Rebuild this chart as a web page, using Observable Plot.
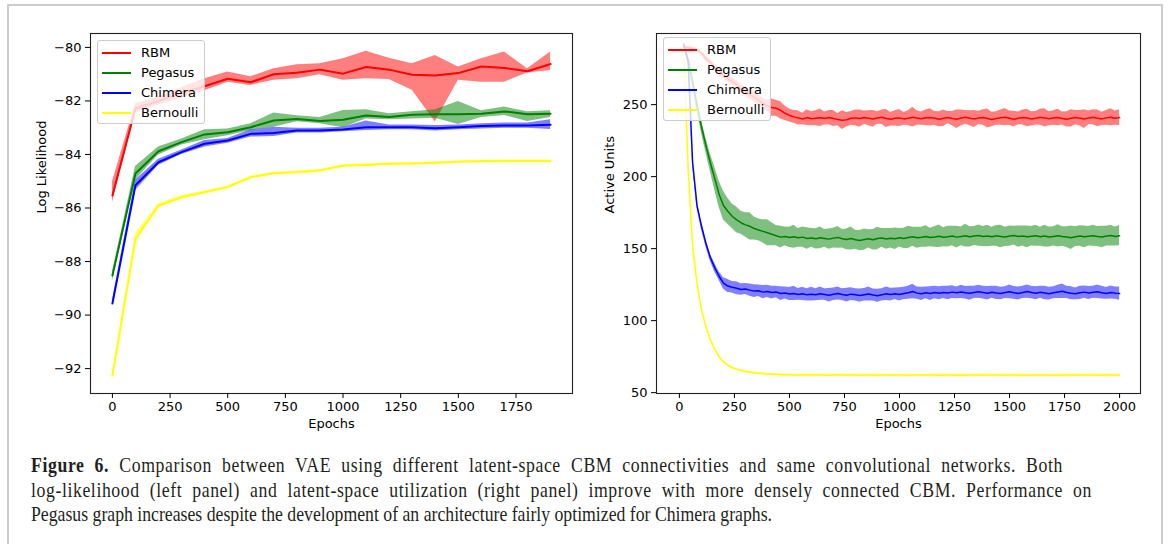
<!DOCTYPE html>
<html><head><meta charset="utf-8">
<script src="https://cdn.jsdelivr.net/npm/d3@7"></script>
<script src="https://cdn.jsdelivr.net/npm/@observablehq/plot@0.6"></script>
<style>
html,body{margin:0;padding:0;background:#fff;}
#root{position:relative;width:1170px;height:544px;overflow:hidden;background:#fff;}
#frame{position:absolute;left:7px;top:4px;width:1156px;height:600px;border:2px solid #cccccc;box-sizing:border-box;}
.panel{position:absolute;top:0;}
.legend{position:absolute;background:rgba(255,255,255,0.8);border:1px solid #cccccc;border-radius:3px;box-sizing:border-box;font-family:"DejaVu Sans";font-size:13px;color:#000;}
.legend .sw{position:absolute;height:2px;width:29px;}
.legend .lb{position:absolute;line-height:16px;white-space:nowrap;}
.cap{position:absolute;left:31px;font-family:"Liberation Serif";font-size:21px;line-height:24px;white-space:nowrap;color:#231f20;transform-origin:0 50%;}
</style></head><body>
<div id="root">
  <div id="frame"></div>
  <div id="left" class="panel" style="left:0"></div>
  <div id="right" class="panel" style="left:580px"></div>
  <div class="cap" id="c1" style="top:453px"><b>Figure 6.</b> Comparison between VAE using different latent-space CBM connectivities and same convolutional networks. Both</div>
  <div class="cap" id="c2" style="top:478px">log-likelihood (left panel) and latent-space utilization (right panel) improve with more densely connected CBM. Performance on</div>
  <div class="cap" id="c3" style="top:502px">Pegasus graph increases despite the development of an architecture fairly optimized for Chimera graphs.</div>
</div>
<script>
// ---------- shared ----------
const seriesNames = ["RBM", "Pegasus", "Chimera", "Bernoulli"];
const seriesColors = ["#ff0000", "#008000", "#0000ff", "#ffff00"];

// ---------- left panel: Log Likelihood ----------
const llEpochs = [0,100,200,300,400,500,600,700,800,900,1000,1100,1200,1300,1400,1500,1600,1700,1800,1900];
const llRBM     = [-85.53,-82.28,-82.0,-81.7,-81.45,-81.17,-81.3,-81.0,-80.95,-80.83,-80.98,-80.73,-80.83,-81.02,-81.05,-80.96,-80.71,-80.77,-80.89,-80.62];
const llRBMHi   = [-85.03,-82.1,-81.85,-81.5,-81.17,-80.92,-81.1,-80.8,-80.65,-80.61,-80.42,-80.14,-80.4,-80.61,-80.3,-80.73,-80.42,-80.17,-80.8,-80.17];
const llRBMLo   = [-85.8,-82.45,-82.15,-81.9,-81.62,-81.3,-81.42,-81.23,-81.17,-81.02,-81.23,-81.17,-81.2,-81.6,-82.79,-81.23,-81.3,-81.3,-80.96,-80.86];
const llPeg     = [-88.52,-84.71,-83.88,-83.54,-83.25,-83.17,-82.98,-82.73,-82.67,-82.75,-82.7,-82.54,-82.6,-82.52,-82.5,-82.5,-82.48,-82.39,-82.5,-82.48];
const llPegHi   = [-88.4,-84.45,-83.72,-83.42,-83.08,-83.05,-82.85,-82.45,-82.55,-82.62,-82.36,-82.33,-82.48,-82.4,-82.33,-82.02,-82.37,-82.23,-82.4,-82.37];
const llPegLo   = [-88.75,-84.95,-84.02,-83.65,-83.45,-83.3,-83.1,-82.98,-82.78,-82.85,-83.0,-82.67,-82.7,-82.67,-82.65,-82.88,-82.62,-82.54,-82.77,-82.62];
const llChi     = [-89.57,-85.15,-84.29,-83.91,-83.6,-83.48,-83.23,-83.2,-83.1,-83.1,-83.07,-82.98,-82.98,-82.98,-83.02,-82.98,-82.94,-82.92,-82.92,-82.89];
const llChiHi   = [-89.45,-84.95,-84.18,-83.83,-83.48,-83.4,-83.08,-82.98,-83.02,-83.02,-82.98,-82.75,-82.9,-82.9,-82.92,-82.9,-82.85,-82.82,-82.82,-82.7];
const llChiLo   = [-89.65,-85.35,-84.4,-84.0,-83.72,-83.58,-83.35,-83.33,-83.2,-83.2,-83.15,-83.1,-83.08,-83.08,-83.12,-83.08,-83.05,-83.02,-83.02,-83.07];
const llBer     = [-92.26,-87.15,-85.91,-85.6,-85.41,-85.22,-84.85,-84.7,-84.66,-84.6,-84.42,-84.39,-84.35,-84.34,-84.31,-84.27,-84.25,-84.24,-84.24,-84.24];
const llBerHi   = [-92.2,-86.95,-85.83,-85.53,-85.36,-85.18,-84.81,-84.66,-84.62,-84.56,-84.38,-84.35,-84.31,-84.3,-84.28,-84.24,-84.22,-84.21,-84.21,-84.21];
const llBerLo   = [-92.3,-87.3,-85.99,-85.67,-85.46,-85.26,-84.89,-84.74,-84.7,-84.64,-84.46,-84.43,-84.39,-84.38,-84.34,-84.3,-84.28,-84.27,-84.27,-84.27];
const llXTicks = [0,250,500,750,1000,1250,1500,1750];
const llYTicks = [-92,-90,-88,-86,-84,-82,-80];

// ---------- right panel: Active Units ----------
const auEpochs = [
  20,40,60,80,100,120,140,160,180,200,
  220,240,260,280,300,320,340,360,380,400,
  420,440,460,480,500,520,540,560,580,600,
  620,640,660,680,700,720,740,760,780,800,
  820,840,860,880,900,920,940,960,980,1000,
  1020,1040,1060,1080,1100,1120,1140,1160,1180,1200,
  1220,1240,1260,1280,1300,1320,1340,1360,1380,1400,
  1420,1440,1460,1480,1500,1520,1540,1560,1580,1600,
  1620,1640,1660,1680,1700,1720,1740,1760,1780,1800,
  1820,1840,1860,1880,1900,1920,1940,1960,1980,2000];
const auRBM = [
  290,289.5,289,288,286,282,279.5,276,273,270.5,
  268,266,264,261,259,257,255,253,251,249,
  248,247.5,246,244,242.5,241.5,240.8,240,241,240.2,
  240.6,240.9,240.3,241,240.4,239.6,239.2,239.5,240.5,240.8,
  240.3,241,240.6,240.1,240.7,241.2,240.4,239.9,240.5,240.8,
  240.1,240.6,241.3,240.7,240.2,240.9,241.1,240.5,239.8,240.6,
  241,240.3,239.9,240.7,241.2,240.5,240,240.8,241.1,240.4,
  239.7,240.3,240.9,241.3,240.6,239.9,240.5,241,240.7,240.1,
  240.6,241.2,240.8,240.2,240.7,241.1,240.4,239.8,240.5,241,
  240.6,240,240.8,241.2,240.5,240.1,240.8,241.3,240.6,241];
const auRBMSpread = [
  1,1,1,1.2,1.5,2,2,2.2,2.5,2.5,
  2.5,2.8,2.8,3,3,3,3.2,3.5,3.5,4,
  6,5.5,6,5,4.5,4.5,5,4,5.5,4.8,
  5.2,6,4.5,5,5.5,4.2,6.5,5,4.8,5.5,
  6,4.6,5.2,5.8,4.4,5,6.2,4.7,5.3,5.9,
  4.5,5.1,6.8,5,4.6,5.4,6,4.8,5.2,5.7,
  4.3,5,6.4,5.5,4.8,5.2,5.9,4.6,5.4,6.6,
  5,4.7,5.3,6,4.9,5.5,4.4,5.2,6.1,5,
  4.7,5.6,6.3,4.8,5.1,5.7,4.5,5.3,6,4.9,
  5.4,6.5,4.8,5.2,5.8,4.6,5.1,5.9,5,5.5];
const auPeg = [
  292,281,266,250,235,222,210,199,188,180,
  176,172.5,170,168,166.5,165.5,164,163,162,161,
  160,159,158,158.5,157.8,158.2,157.5,158,157,157.4,
  156.8,157.5,157.1,156.6,157.3,157.8,156.9,156.4,157,156.2,
  155.6,156.3,156.8,156.2,157,157.4,156.7,157.2,156.9,157.6,
  157.1,157.8,158.3,157.5,157.9,158.4,157.7,158.1,158.6,157.9,
  158.3,158.8,158,158.5,159,158.2,158.7,159.1,158.4,158.8,
  158.3,158.9,158.5,158.1,158.7,159.1,158.4,158.8,158.2,158.6,
  159,158.3,158.7,158.1,158.5,158.9,158.4,158,157.6,158.3,
  158.8,158.2,158.6,159,158.4,158.1,158.7,159.1,158.5,159];
const auPegSpread = [
  2,3,4,4,4.5,5,6,8,9,10,
  9,8.5,9,8,8.5,9.5,8,7.5,8,9,
  8,7,7.5,6.5,7,8,6.5,7,7.5,6.5,
  7,7.5,6.2,7,6.8,7.6,6.4,7.2,8,6.6,
  7,7.4,6.3,7.1,7.8,6.5,7.2,6.8,7.5,6.4,
  7,7.7,6.6,7.3,6.9,7.5,6.4,7.1,7.8,6.6,
  7.2,6.8,7.6,6.5,7.9,7,6.6,7.4,6.9,7.5,
  6.6,7.2,7.8,6.7,7.1,6.5,7.4,6.9,7.6,6.8,
  7.3,6.6,7.5,7,6.7,7.7,6.8,7.2,8.2,6.9,
  7.1,7.6,6.7,7.3,6.9,7.5,6.8,7.2,6.6,7];
const auChi = [
  291,280,210,180,166,154,144,137,131,126,
  124,123.2,122.5,121.6,122,121.2,120.5,120.8,119.8,120.3,
  119.5,119.9,118.8,119.2,118.5,118.9,118.2,118.6,117.9,118.4,
  118,118.7,118.2,117.6,118.3,118.8,118.1,117.7,118.4,117.9,
  117.4,118,118.5,117.8,117.3,117.9,118.6,118.1,118.7,118.2,
  118.9,119.4,120.2,119.1,118.6,119.3,118.8,119.5,119,119.6,
  119.2,119.8,119.3,119.9,119.4,119,119.6,120.1,119.5,119,
  119.7,119.2,118.8,119.5,120,119.3,118.9,119.6,120.2,119.5,
  119,119.7,119.2,118.7,119.4,119.9,120.4,119.6,119,118.6,
  119.3,119.8,119.2,119.7,120.1,119.4,118.9,119.6,119.1,118.8];
const auChiSpread = [
  1,1.5,2,2,2.5,2.5,2.5,3,3,4,
  4.5,4,4.5,4,3.8,4.2,4.5,4,4.6,4.2,
  4.4,4,4.8,4.2,4.5,4.9,4.1,4.6,4.3,4.8,
  4.2,4.6,4,4.7,4.3,4.5,4.1,4.8,4.4,4.2,
  4.6,4.3,4.9,4.1,4.5,4.2,4.7,4.4,4,4.6,
  4.3,4.5,5,4.2,4.6,4.1,4.8,4.3,4.5,4.2,
  4.7,4.4,4.1,4.6,4.3,4.9,4.2,4.5,4.4,4.7,
  4.2,4.6,4.3,4.1,4.8,4.4,4.5,4.2,4.6,4.3,
  4.5,4.1,4.7,4.4,4.2,4.6,5,4.3,4.5,4.1,
  4.6,4.3,4.5,4.2,4.7,4.4,4.1,4.5,4.3,4.6];
const auBer = [
  289,205,152,126,108,96,87,80.5,75,71.5,
  69,67.3,66.2,65.3,64.7,64.2,63.8,63.4,63.1,62.9,
  62.7,62.6,62.5,62.4,62.3,62.3,62.2,62.3,62.2,62.2,
  62.3,62.2,62.2,62.1,62.2,62.3,62.2,62.1,62.2,62.2,
  62.1,62.2,62.2,62.1,62.2,62.1,62.2,62.2,62.1,62.2,
  62.2,62.1,62.2,62.2,62.1,62.2,62.2,62.1,62.2,62.1,
  62.2,62.2,62.1,62.2,62.1,62.2,62.2,62.1,62.2,62.2,
  62.1,62.2,62.2,62.1,62.2,62.2,62.1,62.2,62.1,62.2,
  62.2,62.1,62.2,62.2,62.1,62.2,62.1,62.2,62.2,62.1,
  62.2,62.2,62.1,62.2,62.2,62.1,62.2,62.2,62.1,62.2];
const auBerSpread = [
  1,2,1.5,1,1,0.8,0.8,0.8,0.8,0.8,
  0.7,0.7,0.6,0.7,0.6,0.7,0.6,0.6,0.7,0.6,
  0.6,0.7,0.6,0.6,0.7,0.6,0.6,0.7,0.6,0.6,
  0.7,0.6,0.6,0.7,0.6,0.6,0.7,0.6,0.6,0.7,
  0.6,0.6,0.7,0.6,0.6,0.7,0.6,0.6,0.7,0.6,
  0.6,0.7,0.6,0.6,0.7,0.6,0.6,0.7,0.6,0.6,
  0.7,0.6,0.6,0.7,0.6,0.6,0.7,0.6,0.6,0.7,
  0.6,0.6,0.7,0.6,0.6,0.7,0.6,0.6,0.7,0.6,
  0.6,0.7,0.6,0.6,0.7,0.6,0.6,0.7,0.6,0.6,
  0.7,0.6,0.6,0.7,0.6,0.6,0.7,0.6,0.6,0.7];
const auXTicks = [0,250,500,750,1000,1250,1500,1750,2000];
const auYTicks = [50,100,150,200,250];

// ---------- build tables ----------
function rowsBand(epochs, mean, lo, hi) {
  return epochs.map((e, i) => ({epoch: e, mean: mean[i], lo: lo[i], hi: hi[i]}));
}
function rowsSpread(epochs, mean, spread) {
  return epochs.map((e, i) => ({epoch: e, mean: mean[i], lo: mean[i] - spread[i], hi: mean[i] + spread[i]}));
}
const llData = [
  rowsBand(llEpochs, llRBM, llRBMLo, llRBMHi),
  rowsBand(llEpochs, llPeg, llPegLo, llPegHi),
  rowsBand(llEpochs, llChi, llChiLo, llChiHi),
  rowsBand(llEpochs, llBer, llBerLo, llBerHi)
];
const auData = [
  rowsSpread(auEpochs, auRBM, auRBMSpread),
  rowsSpread(auEpochs, auPeg, auPegSpread),
  rowsSpread(auEpochs, auChi, auChiSpread),
  rowsSpread(auEpochs, auBer, auBerSpread)
];

const fmt = d => (d < 0 ? "\u2212" + Math.abs(d) : String(d));

function seriesMarks(data, lw) {
  const marks = [];
  data.forEach((rows, i) => {
    marks.push(Plot.areaY(rows, {x: "epoch", y1: "lo", y2: "hi", fill: seriesColors[i], fillOpacity: 0.5}));
    marks.push(Plot.lineY(rows, {x: "epoch", y: "mean", stroke: seriesColors[i], strokeWidth: lw}));
  });
  return marks;
}

function panel(opts) {
  return Plot.plot({
    width: opts.width, height: 440,
    marginLeft: opts.ml, marginRight: opts.mr, marginTop: 33, marginBottom: 47,
    style: {fontFamily: "DejaVu Sans", fontSize: "13px", background: "transparent", color: "#000", overflow: "visible"},
    x: {domain: opts.xDomain},
    y: {domain: opts.yDomain},
    marks: [
      ...seriesMarks(opts.data, opts.lw),
      Plot.frame({stroke: "#222", strokeWidth: 1.1}),
      Plot.axisX(opts.xTicks, {tickSize: 5, tickPadding: 3, fontSize: 13, label: null, stroke: "#000", tickFormat: fmt}),
      Plot.axisY(opts.yTicks, {tickSize: 5, tickPadding: 4, fontSize: 13, label: null, stroke: "#000", tickFormat: fmt}),
      Plot.text([opts.yLabel], {text: d => d, frameAnchor: "left", dx: opts.yLabelDx, rotate: -90, fontSize: 13, fill: "#000"}),
      Plot.text(["Epochs"], {text: d => d, frameAnchor: "bottom", dy: 34, fontSize: 13, fill: "#000"})
    ]
  });
}

document.getElementById("left").appendChild(panel({
  width: 580, ml: 90, mr: 8, data: llData, lw: 2,
  xDomain: [-95, 1995], yDomain: [-92.93, -79.48],
  xTicks: llXTicks, yTicks: llYTicks, yLabel: "Log Likelihood", yLabelDx: -49
}));
document.getElementById("right").appendChild(panel({
  width: 590, ml: 76, mr: 30, data: auData, lw: 1.5,
  xDomain: [-104, 2095], yDomain: [49.4, 299.4],
  xTicks: auXTicks, yTicks: auYTicks, yLabel: "Active Units", yLabelDx: -47
}));

// ---------- legends ----------
function legend(left, top) {
  const box = document.createElement("div");
  box.className = "legend";
  box.style.left = left + "px"; box.style.top = top + "px";
  box.style.width = "108px"; box.style.height = "84px";
  seriesNames.forEach((name, i) => {
    const cy = 12 + 20 * i;
    const sw = document.createElement("div");
    sw.className = "sw"; sw.style.left = "4px"; sw.style.top = (cy - 1) + "px"; sw.style.background = seriesColors[i];
    const lb = document.createElement("div");
    lb.className = "lb"; lb.style.left = "43px"; lb.style.top = (cy - 8) + "px"; lb.textContent = name;
    box.appendChild(sw); box.appendChild(lb);
  });
  document.getElementById("root").appendChild(box);
}
legend(97, 40);
legend(663, 37);

// ---------- caption: condensed face, justified first two lines ----------
const capLeft = 31;
const c3 = document.getElementById("c3");
const s = (772 - capLeft) / c3.getBoundingClientRect().width;
const capTargets = {c1: 1063, c2: 1092};
c3.style.transform = "scaleX(" + s + ")";
for (const id in capTargets) {
  const el = document.getElementById(id);
  const w = el.getBoundingClientRect().width;
  const n = el.textContent.length;
  const spaces = (el.textContent.match(/ /g) || []).length;
  const extra = (capTargets[id] - capLeft) / s - w;
  el.style.letterSpacing = (extra * 0.5 / n) + "px";
  el.style.wordSpacing = (extra * 0.5 / spaces) + "px";
  el.style.transform = "scaleX(" + s + ")";
}
</script>
</body></html>
